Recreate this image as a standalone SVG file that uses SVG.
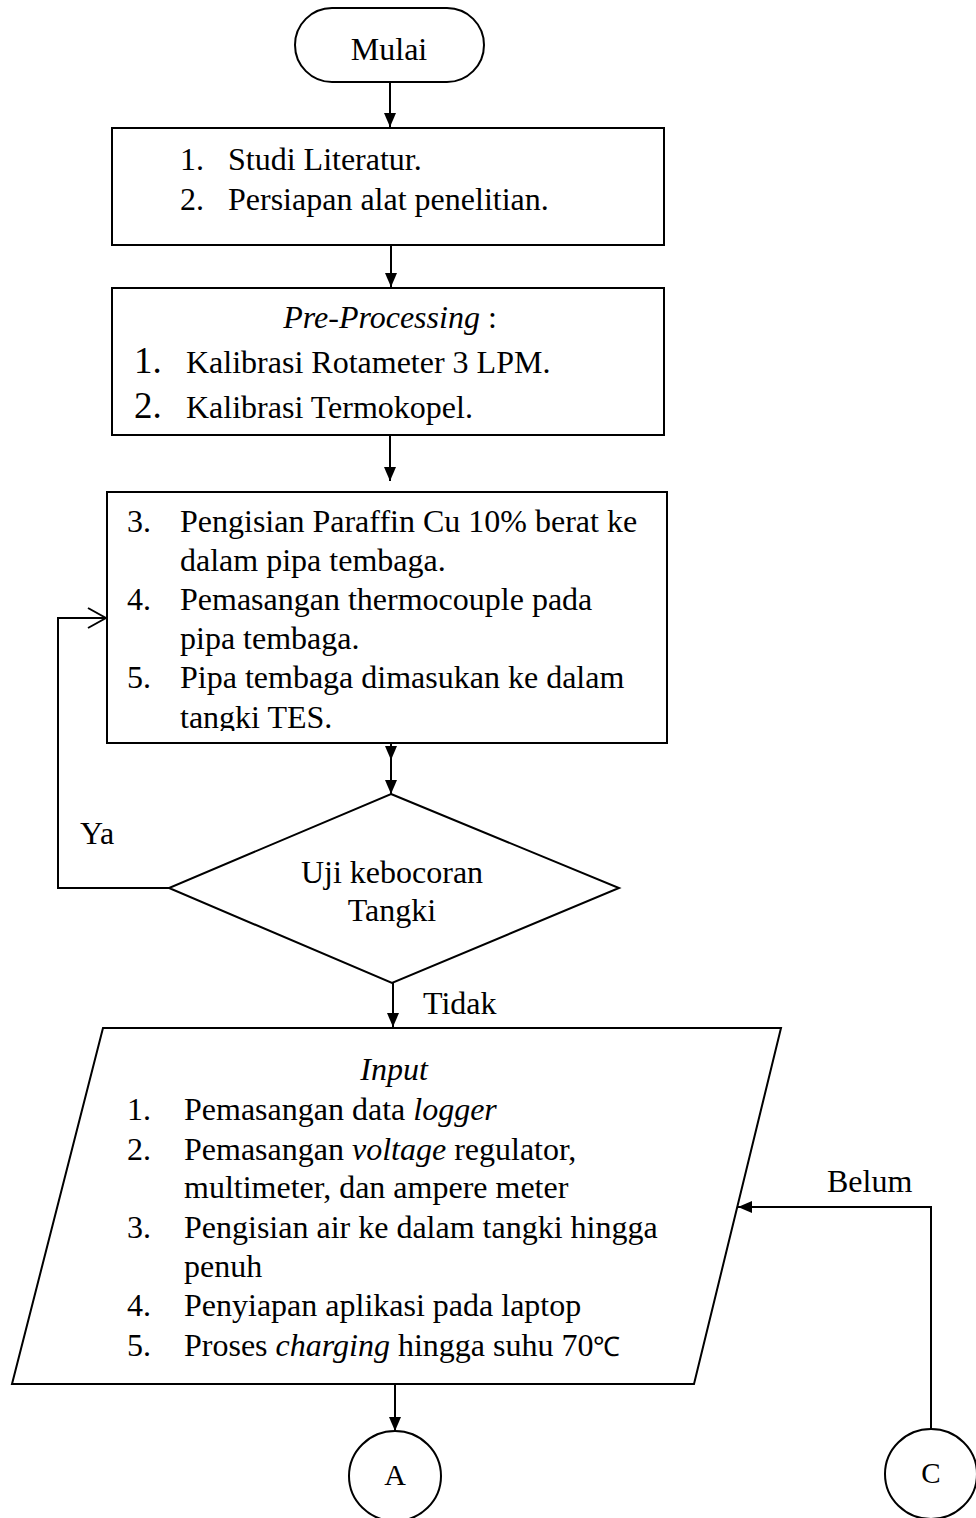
<svg xmlns="http://www.w3.org/2000/svg" width="976" height="1518" viewBox="0 0 976 1518">
<style>
.s{fill:#fff;stroke:#000;stroke-width:2}
.l{fill:none;stroke:#000;stroke-width:2}
text{font-family:"Liberation Serif","Times New Roman",serif;font-size:32px;fill:#000}
.c{text-anchor:middle}
.i{font-style:italic}
.big{font-size:37px}
.deg{font-size:27px}
</style>
<defs>
<marker id="af" markerWidth="14" markerHeight="12" refX="14" refY="6" orient="auto" markerUnits="userSpaceOnUse"><path d="M0,0 L14,6 L0,12 z" fill="#000"/></marker>
<marker id="ao" markerWidth="20" markerHeight="24" refX="19" refY="12" orient="auto" markerUnits="userSpaceOnUse"><path d="M1,2 L19,12 L1,22" fill="none" stroke="#000" stroke-width="2"/></marker>
<clipPath id="cb3"><rect x="107" y="492" width="560" height="239"/></clipPath>
</defs>
<g id="connectors">
<line class="l" x1="390" y1="82" x2="390" y2="127" marker-end="url(#af)"/>
<line class="l" x1="391" y1="245" x2="391" y2="287" marker-end="url(#af)"/>
<line class="l" x1="390" y1="435" x2="390" y2="481" marker-end="url(#af)"/>
<line class="l" x1="391" y1="743" x2="391" y2="760" marker-end="url(#af)"/>
<line class="l" x1="391" y1="758" x2="391" y2="794" marker-end="url(#af)"/>
<polyline class="l" points="169,888 58,888 58,618 106,618" marker-end="url(#ao)"/>
<line class="l" x1="393" y1="983" x2="393" y2="1027" marker-end="url(#af)"/>
<line class="l" x1="395" y1="1385" x2="395" y2="1431" marker-end="url(#af)"/>
<polyline class="l" points="931,1428 931,1207 738,1207" marker-end="url(#af)"/>
</g>
<g id="mulai">
<rect class="s" x="295" y="8" width="189" height="74" rx="37" ry="37"/>
<text class="c" x="389" y="60">Mulai</text>
</g>
<g id="box1">
<rect class="s" x="112" y="128" width="552" height="117"/>
<text x="180" y="170">1.</text><text x="228" y="170">Studi Literatur.</text>
<text x="180" y="210">2.</text><text x="228" y="210">Persiapan alat penelitian.</text>
</g>
<g id="box2">
<rect class="s" x="112" y="288" width="552" height="147"/>
<text class="c" x="390" y="328"><tspan class="i">Pre-Processing</tspan> :</text>
<text class="big" x="134" y="373">1.</text><text x="186" y="373">Kalibrasi Rotameter 3 LPM.</text>
<text class="big" x="134" y="418">2.</text><text x="186" y="418">Kalibrasi Termokopel.</text>
</g>
<g id="box3">
<rect class="s" x="107" y="492" width="560" height="251"/>
<g clip-path="url(#cb3)">
<text x="127" y="532">3.</text><text x="180" y="532">Pengisian Paraffin Cu 10%  berat ke</text>
<text x="180" y="571">dalam pipa tembaga.</text>
<text x="127" y="610">4.</text><text x="180" y="610">Pemasangan thermocouple pada</text>
<text x="180" y="649">pipa tembaga.</text>
<text x="127" y="688">5.</text><text x="180" y="688">Pipa tembaga dimasukan ke dalam</text>
<text x="180" y="728">tangki TES.</text>
</g>
</g>
<g id="decision">
<polygon class="s" points="391,794 619,888 392,983 169,888"/>
<text class="c" x="392" y="883">Uji kebocoran</text>
<text class="c" x="392" y="921">Tangki</text>
<text x="80" y="844">Ya</text>
<text x="423" y="1014">Tidak</text>
</g>
<g id="input">
<polygon class="s" points="103,1028 781,1028 694,1384 12,1384"/>
<text class="c i" x="394" y="1080">Input</text>
<text x="127" y="1120">1.</text><text x="184" y="1120">Pemasangan data <tspan class="i">logger</tspan></text>
<text x="127" y="1160">2.</text><text x="184" y="1160">Pemasangan <tspan class="i">voltage</tspan> regulator,</text>
<text x="184" y="1198">multimeter, dan ampere meter</text>
<text x="127" y="1238">3.</text><text x="184" y="1238">Pengisian air ke dalam tangki hingga</text>
<text x="184" y="1277">penuh</text>
<text x="127" y="1316">4.</text><text x="184" y="1316">Penyiapan aplikasi pada laptop</text>
<text x="127" y="1356">5.</text><text x="184" y="1356">Proses <tspan class="i">charging</tspan> hingga suhu 70<tspan class="deg">℃</tspan></text>
<text x="827" y="1192">Belum</text>
</g>
<g id="connA">
<ellipse class="s" cx="395" cy="1476" rx="46" ry="45"/>
<text class="c" x="395" y="1485" style="font-size:30px">A</text>
</g>
<g id="connC">
<ellipse class="s" cx="931" cy="1474" rx="46" ry="45"/>
<text class="c" x="931" y="1483" style="font-size:29px">C</text>
</g>
</svg>
